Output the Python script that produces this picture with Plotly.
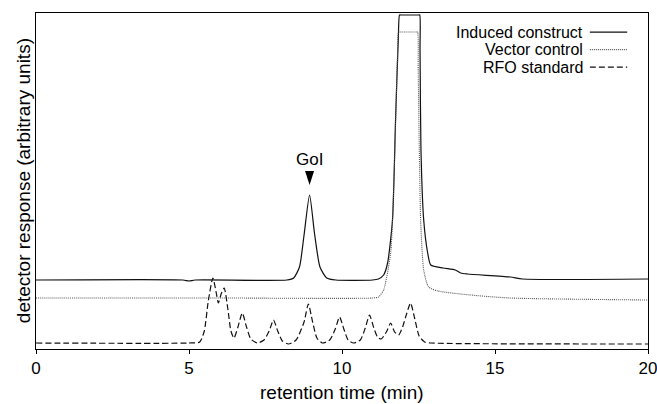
import plotly.graph_objects as go

# ---- data (retention time in min, detector response in arbitrary units) ----
induced_t = [0, 4.8, 5.0, 5.2, 8.2, 8.42, 8.61, 8.76, 8.94, 9.10, 9.28, 9.5, 9.8,
             11.0, 11.19, 11.36, 11.49, 11.65, 11.75, 11.84, 11.88, 11.92, 12.50,
             12.54, 12.55, 12.58, 12.67, 12.80, 12.9, 13.3, 13.7, 13.88, 14.1, 15.5,
             15.9, 20]
induced_r = [69, 69, 68, 69, 69, 71, 82, 114, 154, 116, 82, 71, 69,
             69, 70, 74, 86, 129, 229, 310, 334, 334, 334,
             334, 300, 200, 129, 96, 84, 81, 79, 76, 75, 72,
             70, 70]

vector_t = [0, 6.0, 11.0, 11.19, 11.36, 11.59, 11.69, 11.81, 11.85, 11.89, 12.43,
            12.47, 12.49, 12.57, 12.67, 12.83, 13.13, 14.2, 15.5, 20]
vector_r = [51, 51, 51, 52, 59, 96, 162, 290, 317, 317, 317,
            317, 280, 129, 79, 62, 58, 54, 51, 49]

rfo_t = [0, 5.0, 5.35, 5.5, 5.63, 5.78, 5.88, 5.96, 6.05, 6.15, 6.27, 6.37, 6.47,
         6.6, 6.74, 6.88, 7.02, 7.23, 7.45, 7.62, 7.76, 7.9, 8.05, 8.25, 8.5,
         8.76, 8.9, 9.04, 9.18, 9.36, 9.6, 9.78, 9.92, 10.06, 10.2, 10.38, 10.6,
         10.76, 10.9, 11.04, 11.16, 11.28, 11.45, 11.59, 11.72, 11.85, 11.98,
         12.1, 12.24, 12.38, 12.52, 12.7, 12.9, 20]
rfo_r = [6, 6, 7, 18, 48, 71, 58, 46, 55, 61, 40, 18, 11,
         22, 36, 22, 10, 6, 9, 18, 29, 18, 8, 5, 9,
         27, 45, 27, 11, 6, 9, 20, 32, 20, 9, 6, 9,
         21, 34, 21, 12, 10, 17, 26, 17, 14, 22,
         34, 46, 30, 13, 7, 6, 5]

series_names = ["Induced construct", "Vector control", "RFO standard"]
x_ticks = [0, 5, 10, 15, 20]
goi_time = 8.94
goi_label_r = 190

FONT = "Liberation Sans, Arial, sans-serif"
styles = [dict(color="#111111", width=1.2, dash="solid"),
          dict(color="#555555", width=1.1, dash="1px,1px"),
          dict(color="#111111", width=1.2, dash="6px,3px")]

fig = go.Figure()
for (tt, rr), st, nm in zip([(induced_t, induced_r), (vector_t, vector_r), (rfo_t, rfo_r)],
                            styles, series_names):
    fig.add_trace(go.Scatter(x=tt, y=rr, mode="lines", name=nm, showlegend=False,
                             line=dict(shape="spline", smoothing=0.6, **st)))

# GoI label and arrowhead
fig.add_annotation(x=goi_time, y=goi_label_r, text="GoI", showarrow=False,
                   font=dict(family=FONT, size=17, color="black"), yanchor="middle")
fig.add_shape(type="path", xref="x", yref="y", xsizemode="pixel", ysizemode="pixel",
              xanchor=goi_time, yanchor=goi_label_r,
              path="M-4.5,-12 L4.5,-12 L0,-26 Z", fillcolor="black", line=dict(width=0))

# manual legend (text on the left, line sample on the right)
leg_y = [0.943, 0.891, 0.839]
for nm, st, yy in zip(series_names, styles, leg_y):
    fig.add_annotation(xref="paper", yref="paper", x=0.897, y=yy, text=nm,
                       showarrow=False, xanchor="right", yanchor="middle",
                       font=dict(family=FONT, size=16, color="black"))
    fig.add_shape(type="line", xref="paper", yref="paper", x0=0.905, x1=0.966,
                  y0=yy, y1=yy, line=st)

# axis titles
fig.add_annotation(xref="paper", yref="paper", x=0.5, y=-0.128, text="retention time (min)",
                   showarrow=False, xanchor="center", yanchor="middle",
                   font=dict(family=FONT, size=19, color="black"))
fig.add_annotation(xref="paper", yref="paper", x=-0.021, y=0.5,
                   text="detector response (arbitrary units)", textangle=-90,
                   showarrow=False, xanchor="center", yanchor="middle",
                   font=dict(family=FONT, size=19, color="black"))

fig.update_xaxes(range=[0, 20], tickvals=x_ticks, ticks="outside", ticklen=4,
                 tickcolor="black", showline=True, linecolor="black", linewidth=1,
                 mirror=True, showgrid=False, zeroline=False, ticklabeloverflow="allow",
                 automargin=False,
                 tickfont=dict(family=FONT, size=17, color="black"))
fig.update_yaxes(range=[0, 336], showticklabels=False, ticks="", showline=True,
                 linecolor="black", linewidth=1, mirror=True, showgrid=False,
                 zeroline=False, automargin=False)
fig.update_layout(width=657, height=404, margin=dict(l=36, r=9, t=13, b=55),
                  paper_bgcolor="white", plot_bgcolor="white", showlegend=False,
                  font=dict(family=FONT))
fig.write_html("out.html")
